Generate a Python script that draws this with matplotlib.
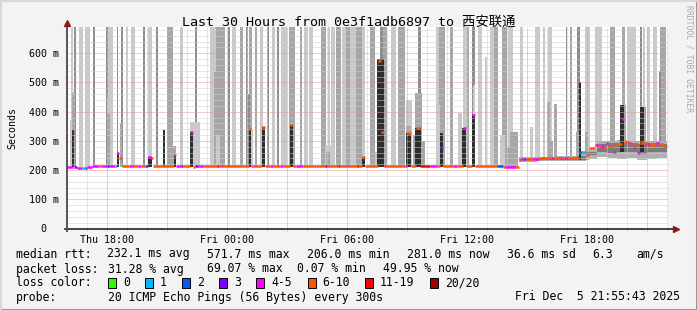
import numpy as np
import matplotlib.pyplot as plt
from matplotlib.collections import LineCollection
from matplotlib.patches import Rectangle
from matplotlib.lines import Line2D

plt.rcParams['font.family'] = ['DejaVu Sans Mono', 'Noto Sans CJK SC']

# time axis in hours since start of window (Thu ~16:00), 30 hours shown
x_tick_hours = [2, 8, 14, 20, 26]
x_tick_labels = ['Thu 18:00', 'Fri 00:00', 'Fri 06:00', 'Fri 12:00', 'Fri 18:00']
y_ticks = [0, 100, 200, 300, 400, 500, 600]
y_tick_labels = ['0', '100 m', '200 m', '300 m', '400 m', '500 m', '600 m']

# full-height smoke columns (some pings way above the scale)
bar_start = [0.20, 0.35, 0.60, 0.90, 1.30, 1.95, 2.05, 2.50, 2.70, 2.95, 3.20, 3.80, 4.05, 4.45,
             5.00, 5.65, 6.40, 7.15, 7.45, 8.05, 8.25, 8.65, 8.95, 9.10, 9.40, 9.65, 10.00,
             10.25, 10.50, 10.70, 11.10, 11.65, 11.85, 12.10, 12.70, 13.05, 13.20, 13.45, 13.75,
             13.95, 14.15, 14.45, 14.75, 15.15, 15.65, 15.80, 16.20, 16.55, 17.55, 18.45, 18.60,
             19.15, 19.80, 20.00, 20.25, 20.55, 21.15, 21.35, 21.75, 22.05, 22.65, 23.40, 23.80,
             24.05, 24.95, 25.15, 25.50, 25.90, 26.40, 27.15, 27.75, 28.00, 28.65, 28.80, 29.00,
             29.30, 29.65]
bar_end = [0.30, 0.45, 0.80, 1.15, 1.40, 2.05, 2.30, 2.55, 2.80, 3.05, 3.40, 3.90, 4.25, 4.55,
           5.30, 5.80, 6.50, 7.45, 7.90, 8.15, 8.45, 8.80, 9.05, 9.25, 9.50, 9.80, 10.10,
           10.40, 10.60, 11.00, 11.40, 11.75, 12.05, 12.30, 12.95, 13.15, 13.40, 13.70, 13.95,
           14.15, 14.45, 14.75, 14.90, 15.40, 15.80, 16.00, 16.45, 16.90, 17.70, 18.60, 18.90,
           19.30, 20.00, 20.10, 20.40, 20.75, 21.35, 21.55, 22.00, 22.30, 22.80, 23.65, 23.90,
           24.25, 25.00, 25.25, 25.65, 26.15, 26.75, 27.40, 27.90, 28.45, 28.75, 28.90, 29.15,
           29.50, 29.95]
bar_shade = ['L', 'D', 'L', 'L', 'D', 'D', 'L', 'D', 'D', 'L', 'L', 'D', 'L', 'D',
             'M', 'L', 'D', 'L', 'M', 'D', 'L', 'M', 'D', 'M', 'M', 'L', 'D',
             'L', 'D', 'L', 'M', 'M', 'L', 'L', 'M', 'L', 'L', 'M', 'L',
             'M', 'L', 'M', 'L', 'M', 'D', 'M', 'L', 'M', 'D', 'L', 'M',
             'M', 'L', 'M', 'D', 'L', 'L', 'M', 'M', 'L', 'L', 'L', 'L',
             'L', 'D', 'M', 'D', 'L', 'L', 'M', 'M', 'L', 'D', 'L', 'L',
             'L', 'M']

# partial smoke columns: start, end, top (ms), shade
smoke_start = [0.15, 0.25, 2.00, 2.00, 2.65, 5.25, 6.15, 7.35, 7.45, 9.05, 9.15, 9.40, 11.10,
               12.90, 12.95, 15.40, 15.50, 16.95, 16.95, 17.30, 17.40, 17.75, 18.45, 19.55,
               20.30, 20.90, 21.65, 21.90, 22.15, 23.15, 24.00, 24.15, 24.35, 25.45, 25.90,
               27.65, 28.65, 29.60]
smoke_end = [0.25, 0.40, 2.25, 2.15, 2.75, 5.45, 6.65, 7.45, 7.65, 9.15, 9.30, 9.45, 11.40,
             13.25, 13.15, 15.55, 15.65, 17.25, 17.20, 17.45, 17.75, 17.90, 18.65, 19.75,
             20.40, 21.00, 21.90, 22.15, 22.55, 23.30, 24.15, 24.30, 24.50, 25.60, 26.05,
             27.95, 28.95, 29.70]
smoke_top = [370, 465, 450, 392, 360, 283, 365, 535, 320, 459, 340, 424, 378,
             286, 262, 262, 448, 441, 350, 320, 465, 300, 424, 395,
             490, 586, 320, 280, 330, 348, 433, 300, 425, 330, 330,
             424, 417, 538]
smoke_shade = ['L', 'M', 'L', 'M', 'M', 'M', 'L', 'M', 'L', 'D', 'L', 'M', 'M',
               'L', 'M', 'L', 'L', 'L', 'M', 'M', 'M', 'M', 'L', 'L',
               'L', 'L', 'L', 'M', 'M', 'L', 'M', 'M', 'M', 'M', 'M',
               'M', 'M', 'D']

# dense (dark) smoke under elevated medians
spike_start = [0.25, 2.50, 4.05, 4.80, 5.35, 6.15, 9.10, 9.75, 11.15, 14.75, 15.50, 16.95,
               17.40, 18.65, 19.75, 20.25, 25.60, 27.65, 28.65]
spike_end = [0.35, 2.62, 4.25, 4.88, 5.45, 6.30, 9.20, 9.90, 11.30, 14.90, 15.85, 17.20,
             17.70, 18.80, 19.95, 20.40, 25.68, 27.85, 28.85]
spike_top = [338, 258, 245, 338, 250, 331, 340, 348, 355, 245, 579, 328,
             345, 328, 345, 390, 503, 424, 417]

# floor of the smoke (ms) per period
floor_t = [0, 22.6, 25.95]
floor_ms = [209, 236, 262]

# smoke band around the median in the late part
band_t = [22.60, 23.50, 24.50, 25.50, 25.95, 26.50, 27.00, 27.50, 28.00, 28.50, 29.00, 29.50, 30.00]
band_lo = [229, 231, 230, 232, 238, 244, 240, 238, 242, 236, 238, 240, 240]
band_hi = [244, 245, 247, 258, 270, 298, 300, 302, 300, 298, 300, 298, 298]
core_lo = [233, 234, 234, 236, 250, 262, 258, 262, 262, 256, 262, 262, 262]
core_hi = [241, 242, 243, 248, 262, 290, 292, 294, 292, 290, 292, 290, 290]

# median rtt (ms), step per knot, with loss class index
med_t = [0.00, 0.28, 0.35, 0.50, 0.75, 0.90, 1.00, 1.25, 1.60, 1.75, 2.00, 2.15, 2.40, 2.50,
         2.60, 2.75, 3.10, 3.35, 3.55, 3.70, 3.90, 4.05, 4.20, 4.30, 5.35, 5.45, 5.70, 5.80,
         6.15, 6.30, 6.40, 6.55, 6.85, 7.50, 7.60, 7.70, 7.80, 8.05, 8.10, 9.10, 9.20, 9.30,
         9.40, 9.75, 9.90, 10.15, 10.30, 10.65, 10.80, 11.15, 11.30, 11.45, 11.80, 12.35,
         12.45, 12.90, 13.00, 13.55, 13.65, 13.95, 14.05, 14.50, 14.60, 14.75, 14.90, 15.55,
         15.70, 15.85, 15.95, 16.90, 17.00, 17.20, 17.45, 17.65, 18.15, 18.50, 18.65, 18.80,
         19.30, 19.50, 19.80, 19.95, 20.25, 20.40, 21.50, 21.80, 21.90, 22.45, 22.60, 22.70,
         22.85, 22.95, 23.30, 23.60, 24.20, 24.35, 24.65, 24.75, 24.90, 25.05, 25.60, 25.75,
         25.95, 26.10, 26.40, 26.55, 26.70, 26.85, 26.95, 27.05, 27.30, 27.40, 27.75, 27.85,
         28.10, 28.20, 28.30, 28.40, 28.55, 28.65, 29.00, 29.10, 29.45, 29.60, 29.80]
med_ms = [212, 335, 209, 208, 208, 207, 209, 214, 214, 214, 214, 214, 214, 258,
          240, 214, 214, 214, 214, 214, 214, 245, 240, 214, 250, 214, 214, 214,
          331, 212, 214, 214, 214, 214, 214, 214, 214, 214, 214, 340, 214, 214,
          214, 348, 214, 214, 214, 214, 214, 355, 214, 214, 214, 214,
          214, 214, 214, 214, 214, 214, 214, 214, 214, 245, 214, 572,
          331, 214, 214, 214, 328, 214, 345, 214, 214, 214, 276, 214,
          214, 214, 345, 214, 390, 214, 213, 212, 210, 209, 236, 238,
          238, 237, 239, 240, 240, 240, 241, 240, 241, 241, 262, 262,
          250, 275, 286, 282, 280, 276, 292, 282, 262, 290, 376, 297,
          293, 288, 275, 288, 260, 292, 290, 286, 292, 290, 281]
med_loss = [4, 4, 3, 4, 1, 2, 4, 4, 5, 4, 2, 4, 1, 4,
            5, 5, 4, 5, 4, 5, 2, 4, 5, 5, 5, 4, 3, 5,
            4, 5, 3, 4, 5, 6, 5, 4, 5, 6, 5, 5, 5, 4,
            5, 5, 5, 4, 5, 4, 5, 5, 5, 4, 5, 4,
            5, 3, 5, 6, 5, 4, 5, 6, 5, 5, 5, 5,
            5, 4, 5, 4, 5, 5, 5, 6, 4, 5, 3, 5,
            4, 5, 4, 5, 4, 5, 2, 5, 4, 5, 5, 4,
            2, 5, 4, 5, 4, 5, 4, 5, 4, 5, 2, 1,
            5, 5, 4, 5, 4, 5, 4, 5, 4, 5, 4, 5,
            4, 5, 4, 5, 4, 5, 4, 5, 4, 5, 5]

loss_labels = ['0', '1', '2', '3', '4-5', '6-10', '11-19', '20/20']
loss_colors = ['#26ff00', '#00b8ff', '#0059ff', '#7e00ff', '#ff00ff', '#ff5500', '#ff0000', '#a10000']
shades = {'L': '#c9c9c9', 'M': '#a6a6a6', 'D': '#8c8c8c'}

W, H = 697, 310
fig = plt.figure(figsize=(W / 100, H / 100), dpi=100, facecolor='#f3f3f3')
ax = fig.add_axes([67 / W, (H - 228.5) / H, 601 / W, 201.5 / H])
ax.set_facecolor('white')
ax.set_xlim(0, 30.05)
ax.set_ylim(0, 690)


def floor_at(t):
    return floor_ms[np.searchsorted(floor_t, t, side='right') - 1]


# smoke
for s, e, sh in zip(bar_start, bar_end, bar_shade):
    b = floor_at(s)
    ax.bar(s, 690 - b, width=e - s, bottom=b, align='edge', color=shades[sh], lw=0, zorder=1)
for s, e, top, sh in zip(smoke_start, smoke_end, smoke_top, smoke_shade):
    b = floor_at(s)
    ax.bar(s, top - b, width=e - s, bottom=b, align='edge', color=shades[sh], lw=0, zorder=2)
ax.fill_between(band_t, band_lo, band_hi, step='post', color='#b0b0b0', lw=0, zorder=2.5)
ax.fill_between(band_t, core_lo, core_hi, step='post', color='#7a7a7a', lw=0, zorder=2.6)
for s, e, top in zip(spike_start, spike_end, spike_top):
    b = floor_at(s)
    ax.bar(s, top - b, width=e - s, bottom=b, align='edge', color='#2e2e2e', lw=0, zorder=3)

# grid (drawn over the smoke, like rrdtool)
dot = (0, (1, 1))
for h in range(1, 31):
    c = '#e59a9a' if h % 3 == 2 else '#cfcfcf'
    ax.plot([h, h], [-8, 690], color=c, lw=0.72, ls=dot, zorder=4, clip_on=False)
for v in range(20, 690, 20):
    c = '#e59a9a' if v % 100 == 0 else '#cfcfcf'
    ax.axhline(v, color=c, lw=0.72, ls=dot, zorder=4)

# median line coloured by loss (horizontal steps only)
segs, cols = [], []
for i in range(len(med_t)):
    t0 = med_t[i]
    t1 = med_t[i + 1] if i + 1 < len(med_t) else 30
    segs.append([(t0, med_ms[i]), (t1, med_ms[i])])
    cols.append(loss_colors[med_loss[i]])
ax.add_collection(LineCollection(segs, colors=cols, linewidths=1.8, zorder=6, capstyle='butt'))

# axes
for sp in ['top', 'right', 'bottom', 'left']:
    ax.spines[sp].set_visible(False)
ax.plot([-0.12, 30.4], [0, 0], color='#111111', lw=1.1, clip_on=False, zorder=7)
ax.plot([0, 0], [-9, 690], color='#555555', lw=1.4, clip_on=False, zorder=7)
ax.plot([30.45], [0], marker='>', color='#8b1a1a', ms=5, clip_on=False, zorder=8)
ax.plot([0], [703], marker='^', color='#8b1a1a', ms=5, clip_on=False, zorder=8)

ax.set_xticks(x_tick_hours)
ax.set_xticklabels(x_tick_labels, fontsize=7.2)
ax.set_yticks(y_ticks)
ax.set_yticklabels(y_tick_labels, fontsize=7.2)
ax.tick_params(axis='both', which='major', length=0)
ax.tick_params(axis='x', pad=5)
ax.tick_params(axis='y', pad=5.5)
ax.yaxis.get_major_ticks()[0].set_pad(15)

ax.set_ylabel('Seconds', fontsize=7.2)
ax.yaxis.set_label_coords(-0.082, 0.5)

fig.text(0.5, 1 - 22 / H, 'Last 30 Hours from 0e3f1adb6897 to 西安联通', ha='center', va='center',
         fontsize=9.6)
fig.text(689 / W, 1 - 5 / H, 'RRDTOOL / TOBI OETIKER', rotation=270, ha='center', va='top',
         fontsize=5.8, color='#a8a8a8')


def ftext(x, y, s, **kw):
    fig.text(x / W, 1 - y / H, s, va='center', fontsize=8.3, **kw)


ftext(16, 254, 'median rtt:')
ftext(107, 254, '232.1 ms avg')
ftext(207, 254, '571.7 ms max')
ftext(307, 254, '206.0 ms min')
ftext(407, 254, '281.0 ms now')
ftext(507, 254, '36.6 ms sd')
ftext(592, 254, '6.3')
ftext(636, 254, 'am/s')

ftext(16, 269, 'packet loss:')
ftext(107.5, 269, '31.28 % avg')
ftext(207, 269, '69.07 % max')
ftext(297, 269, '0.07 % min')
ftext(383, 269, '49.95 % now')

ftext(16, 283, 'loss color:')
box_x = [108, 145, 182, 219, 256, 307.5, 365, 430]
for bx, lab, col in zip(box_x, loss_labels, loss_colors):
    fig.add_artist(Rectangle((bx / W, 1 - 288 / H), 8 / W, 10 / H, transform=fig.transFigure,
                             facecolor=col, edgecolor='black', lw=0.7))
    ftext(bx + 15, 283, lab)

ftext(16, 297, 'probe:')
ftext(107.5, 297, '20 ICMP Echo Pings (56 Bytes) every 300s')
ftext(680, 297, 'Fri Dec  5 21:55:43 2025', ha='right')

# 3d-ish frame
fig.add_artist(Line2D([0, 1], [0.5 / H, 0.5 / H], transform=fig.transFigure, color='#999999', lw=1.5))
fig.add_artist(Line2D([1 - 0.5 / W, 1 - 0.5 / W], [0, 1], transform=fig.transFigure, color='#999999', lw=1.5))
fig.add_artist(Line2D([0, 1], [1 - 0.5 / H, 1 - 0.5 / H], transform=fig.transFigure, color='#d8d8d8', lw=1.5))
fig.add_artist(Line2D([0.5 / W, 0.5 / W], [0, 1], transform=fig.transFigure, color='#d8d8d8', lw=1.5))

fig.savefig('out.png', dpi=100, facecolor=fig.get_facecolor())
